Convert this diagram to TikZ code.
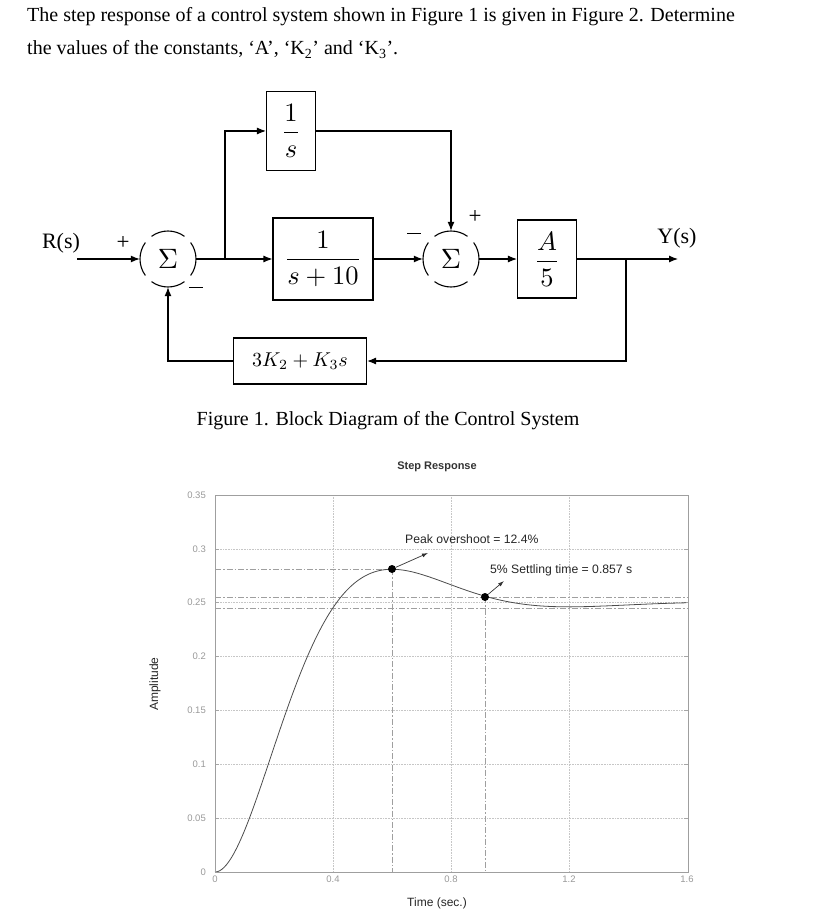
\documentclass[tikz,border=0pt]{standalone}
\usepackage{amsmath}
\usepackage{graphicx}
\usepackage[no-math]{fontspec}
\setmainfont{Liberation Serif}
\setsansfont{Liberation Sans}
\usetikzlibrary{arrows.meta}
\tikzset{
  wire/.style={line width=1.1pt, draw=black},
  arr/.style={wire, -{Latex[length=9pt,width=7pt]}},
  blk/.style={draw=black, line width=1.1pt, inner sep=0pt, font=\fontsize{10}{12}\selectfont},
  sumn/.style={circle, minimum size=56pt, inner sep=0pt, font=\fontsize{10}{12}\selectfont},
  sgn/.style={font=\fontsize{23}{25}\selectfont, inner sep=0pt},
  hdr/.style={font=\fontsize{20}{24}\selectfont, inner sep=0pt, anchor=base west},
  lbl/.style={font=\fontsize{22}{24}\selectfont, inner sep=0pt},
  grid/.style={draw=gray!45, line width=0.6pt, densely dotted},
  ddot/.style={draw=gray!75, line width=0.9pt, dash pattern=on 6pt off 2pt on 1.5pt off 2pt},
  tick/.style={font=\sffamily\fontsize{9.5}{11}\selectfont, text=gray!80, inner sep=1pt},
  ann/.style={font=\sffamily\fontsize{12.2}{14}\selectfont, text=black!85, inner sep=0pt},
  axl/.style={font=\sffamily\fontsize{12}{14}\selectfont, text=black!85, inner sep=0pt},
  aarr/.style={draw=black!80, line width=0.7pt, -{Latex[length=6pt,width=4pt]}},
  dot/.style={circle, fill=black, minimum size=8pt, inner sep=0pt}
}
\newcommand\sumarcs[1]{%
  \foreach \a in {0,90,180,270}{%
    \draw[line width=1.1pt] ([shift={(\a-36:28pt)}]#1.center) arc[start angle=\a-36, end angle=\a+36, radius=28pt];}}
\newcommand\mysign{\rule[0.3ex]{0.6em}{1.1pt}}
\begin{document}
\begin{tikzpicture}[x=1pt,y=-1pt]
\useasboundingbox (0,0) rectangle (831,917);
% header
\node[hdr] (t1) at (27,22) {The step response of a control system shown in Figure 1 is given in Figure 2. Determine};
\node[hdr] (t2) at (27,55) {the values of the constants, ‘A’, ‘K\textsubscript{2}’ and ‘K\textsubscript{3}’.};

% block diagram
\node[lbl] (R) at (61,243) {R(s)};
\coordinate (Rin) at (77,259);
\node[sumn] (s1) at (168,259) {\scalebox{2.8}{$\Sigma$}};
\sumarcs{s1}
\node[sumn] (s2) at (451,259) {\scalebox{2.8}{$\Sigma$}};
\sumarcs{s2}
\node[blk, minimum width=100pt, minimum height=82pt] (g1) at (323,259) {\scalebox{2.65}{$\displaystyle\frac{1}{s+10}$}};
\node[blk, minimum width=49pt, minimum height=79pt] (g2) at (291,131) {\scalebox{2.65}{$\displaystyle\frac{1}{s}$}};
\node[blk, minimum width=59pt, minimum height=78pt] (g3) at (547,259) {\scalebox{2.65}{$\displaystyle\frac{A}{5}$}};
\node[blk, minimum width=133pt, minimum height=46pt] (h) at (300,361) {\scalebox{2}{$3K_2+K_3s$}};
\coordinate (b1) at (225,259);
\coordinate (b2) at (626,259);
\coordinate (Yout) at (678,259);
\node[lbl] (Y) at (677,238) {Y(s)};

\draw[arr] (Rin) -- (s1.west);
\draw[wire] (s1.east) -- (b1);
\draw[arr] (b1) -- (g1.west);
\draw[arr] (b1) |- (g2.west);
\draw[arr] (g2.east) -| (s2.north);
\draw[arr] (g1.east) -- (s2.west);
\draw[arr] (s2.east) -- (g3.west);
\draw[arr] (g3.east) -- (Yout);
\draw[arr] (b2) |- (h.east);
\draw[arr] (h.west) -| (s1.south);

\node[sgn] (p1) at (123,243) {+};
\node[sgn] (m1) at (196,289) {\mysign};
\node[sgn] (m2) at (414,235) {\mysign};
\node[sgn] (p2) at (475,217) {+};

\node[font=\fontsize{20}{24}\selectfont, inner sep=0pt] (cap) at (388,421) {Figure 1. Block Diagram of the Control System};

% plot
\node[font=\sffamily\bfseries\fontsize{11}{13}\selectfont, text=black!80, inner sep=0pt] (title) at (437,467) {Step Response};
\foreach \v in {0.05,0.1,0.15,0.2,0.25,0.3}{
  \draw[grid] (215,{872-1077.14*\v}) -- (688,{872-1077.14*\v});}
\foreach \t in {0.4,0.8,1.2}{
  \draw[grid] ({215+295*\t},495) -- ({215+295*\t},872);}
\foreach \v/\lab in {0/0,0.05/0.05,0.1/0.1,0.15/0.15,0.2/0.2,0.25/0.25,0.3/0.3,0.35/0.35}{
  \node[tick, anchor=east] at (207,{872-1077.14*\v}) {\lab};
  \draw[gray!70, line width=0.6pt] (215,{872-1077.14*\v}) -- (219,{872-1077.14*\v});
  \draw[gray!70, line width=0.6pt] (688,{872-1077.14*\v}) -- (684,{872-1077.14*\v});}
\foreach \t/\lab in {0/0,0.4/0.4,0.8/0.8,1.2/1.2,1.6/1.6}{
  \node[tick, anchor=north] at ({215+295*\t},875) {\lab};}
\draw[ddot] (215,569) -- (392,569);
\draw[ddot] (215,597) -- (688,597);
\draw[ddot] (215,608) -- (688,608);
\draw[ddot] (392,569) -- (392,872);
\draw[ddot] (485,597) -- (485,872);
\draw[black!70, line width=0.8pt] plot[domain=0:1.6, samples=200, smooth]
  ({215+295*\x}, {872-269.3*(1-exp(-3.476*\x)*(cos(5.236*\x r)+0.664*sin(5.236*\x r)))});
\draw[gray!75, line width=0.9pt] (215,495) rectangle (688,872);
\node[dot] (pk) at (392,569) {};
\node[dot] (st) at (485,597) {};
\coordinate (pka) at (428,553);
\coordinate (sta) at (504,581);
\draw[aarr] (pk) -- (pka);
\draw[aarr] (st) -- (sta);
\node[ann, anchor=west] (pklab) at (405,539) {Peak overshoot = 12.4\%};
\node[ann, anchor=west] (stlab) at (490,570) {5\% Settling time = 0.857 s};
\node[axl, rotate=90] (amp) at (155,684) {Amplitude};
\node[axl] (time) at (437,903) {Time (sec.)};
\end{tikzpicture}
\end{document}
